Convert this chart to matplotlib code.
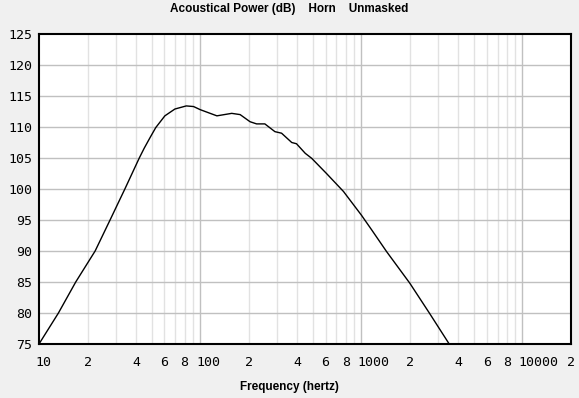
import matplotlib.pyplot as plt
import matplotlib.transforms as mtransforms

# values
freq = [10, 13.2, 16.9, 22.3, 27.6, 34.1, 41.9, 45.0, 48.9, 53.0, 60.4, 69.7, 82,
        91, 100, 127, 157, 177, 204, 224, 252, 291, 320, 370, 396, 449, 492,
        608, 775, 1000, 1160, 1435, 2000, 2650, 3510]
power_db = [75, 80, 85, 90, 95, 100, 105, 106.6, 108.3, 109.9, 111.8, 112.9, 113.4,
            113.3, 112.8, 111.8, 112.2, 112.0, 110.85, 110.5, 110.5, 109.25, 109.0,
            107.5, 107.3, 105.75, 104.95, 102.5, 99.6, 95.8, 93.4, 89.9, 84.8,
            79.95, 75]

xtick_vals = [10, 20, 40, 60, 80, 100, 200, 400, 600, 800, 1000, 2000, 4000,
              6000, 8000, 10000, 20000]
xtick_labels = ['10', '2', '4', '6', '8', '100', '2', '4', '6', '8', '1000',
                '2', '4', '6', '8', '10000', '2']
decades = [10, 100, 1000, 10000]
yticks = [75, 80, 85, 90, 95, 100, 105, 110, 115, 120, 125]

bg = '#f0f0f0'
fig = plt.figure(figsize=(5.79, 3.98), dpi=100, facecolor=bg)
ax = fig.add_axes([39 / 579, 54 / 398, 532 / 579, 310 / 398])
ax.set_facecolor('white')
ax.set_xscale('log')
ax.set_xlim(10, 20000)
ax.set_ylim(75, 125)

# grid: light minor verticals, darker decade verticals and horizontals
minor = [m * d for d in decades for m in range(2, 10) if m * d < 20000]
for f in minor:
    ax.axvline(f, color='#e2e2e2', lw=1.0, zorder=0)
for f in decades[1:]:
    ax.axvline(f, color='#c0c0c0', lw=1.0, zorder=0)
for y in yticks[1:-1]:
    ax.axhline(y, color='#c0c0c0', lw=1.0, zorder=0)

ax.plot(freq, power_db, color='black', lw=1.0, zorder=3)

for s in ax.spines.values():
    s.set_color('black')
    s.set_linewidth(1.5)

ax.minorticks_off()
ax.tick_params(length=0, pad=9, labelsize=9.5)
ax.set_xticks(xtick_vals)
ax.set_xticklabels(xtick_labels, family='DejaVu Sans Mono')
ax.set_yticks(yticks)
ax.set_yticklabels([str(v) for v in yticks], family='DejaVu Sans Mono')
ax.tick_params(axis='y', pad=5)

# multi-digit labels start so their first digit sits on the line
shift = mtransforms.ScaledTranslation(-4 / 100, 0, fig.dpi_scale_trans)
for lbl in ax.get_xticklabels():
    if len(lbl.get_text()) > 1:
        lbl.set_horizontalalignment('left')
        lbl.set_transform(lbl.get_transform() + shift)

fig.text(0.5, 1 - 9 / 398, 'Acoustical Power (dB)    Horn    Unmasked',
         ha='center', va='center', fontsize=8.5, fontweight='bold',
         family='Liberation Sans')
fig.text(0.5, 1 - 387 / 398, 'Frequency (hertz)', ha='center', va='center',
         fontsize=8.5, fontweight='bold', family='Liberation Sans')

fig.savefig('out.png', dpi=100, facecolor=bg)
